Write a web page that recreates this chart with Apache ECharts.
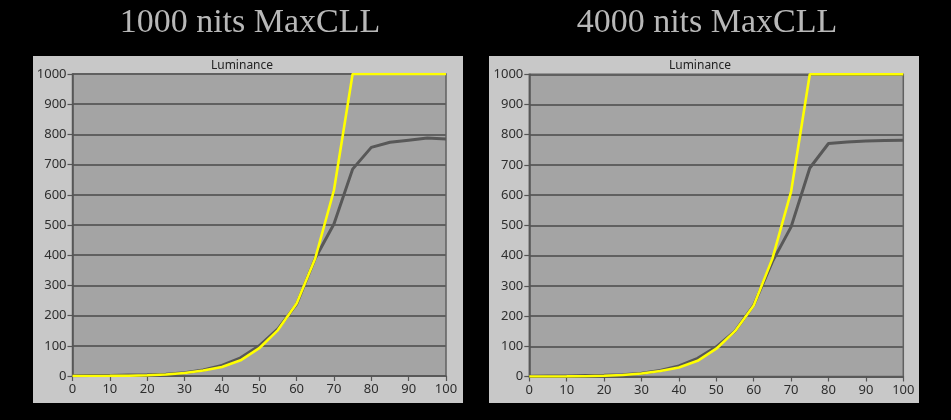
<!DOCTYPE html>
<html><head><meta charset="utf-8">
<script src="https://cdn.jsdelivr.net/npm/echarts@6/dist/echarts.min.js"></script>
<style>html,body{margin:0;padding:0;background:#000;}#c{width:951px;height:420px;}</style>
</head><body><div id="c"></div>
<script>
const xValues = [0,5,10,15,20,25,30,35,40,45,50,55,60,65,70,75,80,85,90,95,100];
const target1000 = [0,0.1,0.3,0.8,2.4,5,10,18,30,52,92,152,240,390,615,1000,1000,1000,1000,1000,1000];
const measured1000 = [1,1.5,2,3,4,6,11,20,35,60,100,156,238,390,503,685,757,774,781,788,785];
const target4000 = [0,0.1,0.3,0.8,2.4,5,10,18,30,52,92,150,235,390,612,1000,1000,1000,1000,1000,1000];
const measured4000 = [1,1.5,2,3,4,6,11,20,35,60,98,150,236,380,495,690,771,776,779,781,782];
const yTicks = [0,100,200,300,400,500,600,700,800,900,1000];
const xTicks = [0,10,20,30,40,50,60,70,80,90,100];
const titles = ['1000 nits MaxCLL','4000 nits MaxCLL'];
const chartLabel = 'Luminance';

function zip(xs, ys){ return xs.map((x,i)=>[x, ys[i]]); }

const chart = echarts.init(document.getElementById('c'), null, {renderer:'canvas'});
const labelFont = {color:'#2e2e2e', fontFamily:'Noto Sans', fontSize:13, formatter:function(v){return String(v);}};
function mkX(idx){ return {type:'value', gridIndex:idx, min:xTicks[0], max:xTicks[xTicks.length-1], interval:10,
  axisLine:{show:true, lineStyle:{color:'#555', width:1.5}},
  axisTick:{show:true, length:5, lineStyle:{color:'#555', width:1.2}},
  axisLabel:Object.assign({margin:7}, labelFont),
  splitLine:{show:false}}; }
function mkY(idx){ return {type:'value', gridIndex:idx, min:yTicks[0], max:yTicks[yTicks.length-1], interval:100,
  axisLine:{show:true, lineStyle:{color:'#555', width:1.5}},
  axisTick:{show:true, length:5, lineStyle:{color:'#555', width:1.2}},
  axisLabel:Object.assign({margin:6}, labelFont),
  splitLine:{show:true, lineStyle:{color:'#606060', width:1.8}}}; }
const lineCommon = {type:'line', showSymbol:false, symbol:'none', smooth:false, animation:false};

chart.setOption({
  backgroundColor:'#000',
  animation:false,
  graphic:[
    {type:'rect', left:33, top:56, shape:{width:430, height:347}, style:{fill:'#c8c8c8'}, z:-10},
    {type:'rect', left:489, top:56, shape:{width:430, height:347}, style:{fill:'#c8c8c8'}, z:-10},
    {type:'text', x:250, y:23, style:{text:titles[0], fill:'#b8b8b8', font:'34px "Liberation Serif"', textAlign:'center', textVerticalAlign:'middle'}},
    {type:'text', x:707, y:23, style:{text:titles[1], fill:'#b8b8b8', font:'34px "Liberation Serif"', textAlign:'center', textVerticalAlign:'middle'}},
    {type:'text', x:242, y:66, style:{text:chartLabel, fill:'#222', font:'12px "Noto Sans"', textAlign:'center', textVerticalAlign:'middle'}},
    {type:'text', x:700, y:66, style:{text:chartLabel, fill:'#222', font:'12px "Noto Sans"', textAlign:'center', textVerticalAlign:'middle'}}
  ],
  grid:[
    {left:72.5, right:505, top:74, bottom:44, show:true, backgroundColor:'#a4a4a4', borderColor:'#606060', borderWidth:1.5},
    {left:529.3, right:47.7, top:74.3, bottom:43.5, show:true, backgroundColor:'#a4a4a4', borderColor:'#606060', borderWidth:1.5}
  ],
  xAxis:[mkX(0), mkX(1)],
  yAxis:[mkY(0), mkY(1)],
  series:[
    Object.assign({xAxisIndex:0, yAxisIndex:0, data:zip(xValues, measured1000), lineStyle:{color:'#585858', width:3}}, lineCommon),
    Object.assign({xAxisIndex:0, yAxisIndex:0, data:zip(xValues, target1000), lineStyle:{color:'#ffff00', width:2.6}}, lineCommon),
    Object.assign({xAxisIndex:1, yAxisIndex:1, data:zip(xValues, measured4000), lineStyle:{color:'#585858', width:3}}, lineCommon),
    Object.assign({xAxisIndex:1, yAxisIndex:1, data:zip(xValues, target4000), lineStyle:{color:'#ffff00', width:2.6}}, lineCommon)
  ]
});
</script></body></html>
